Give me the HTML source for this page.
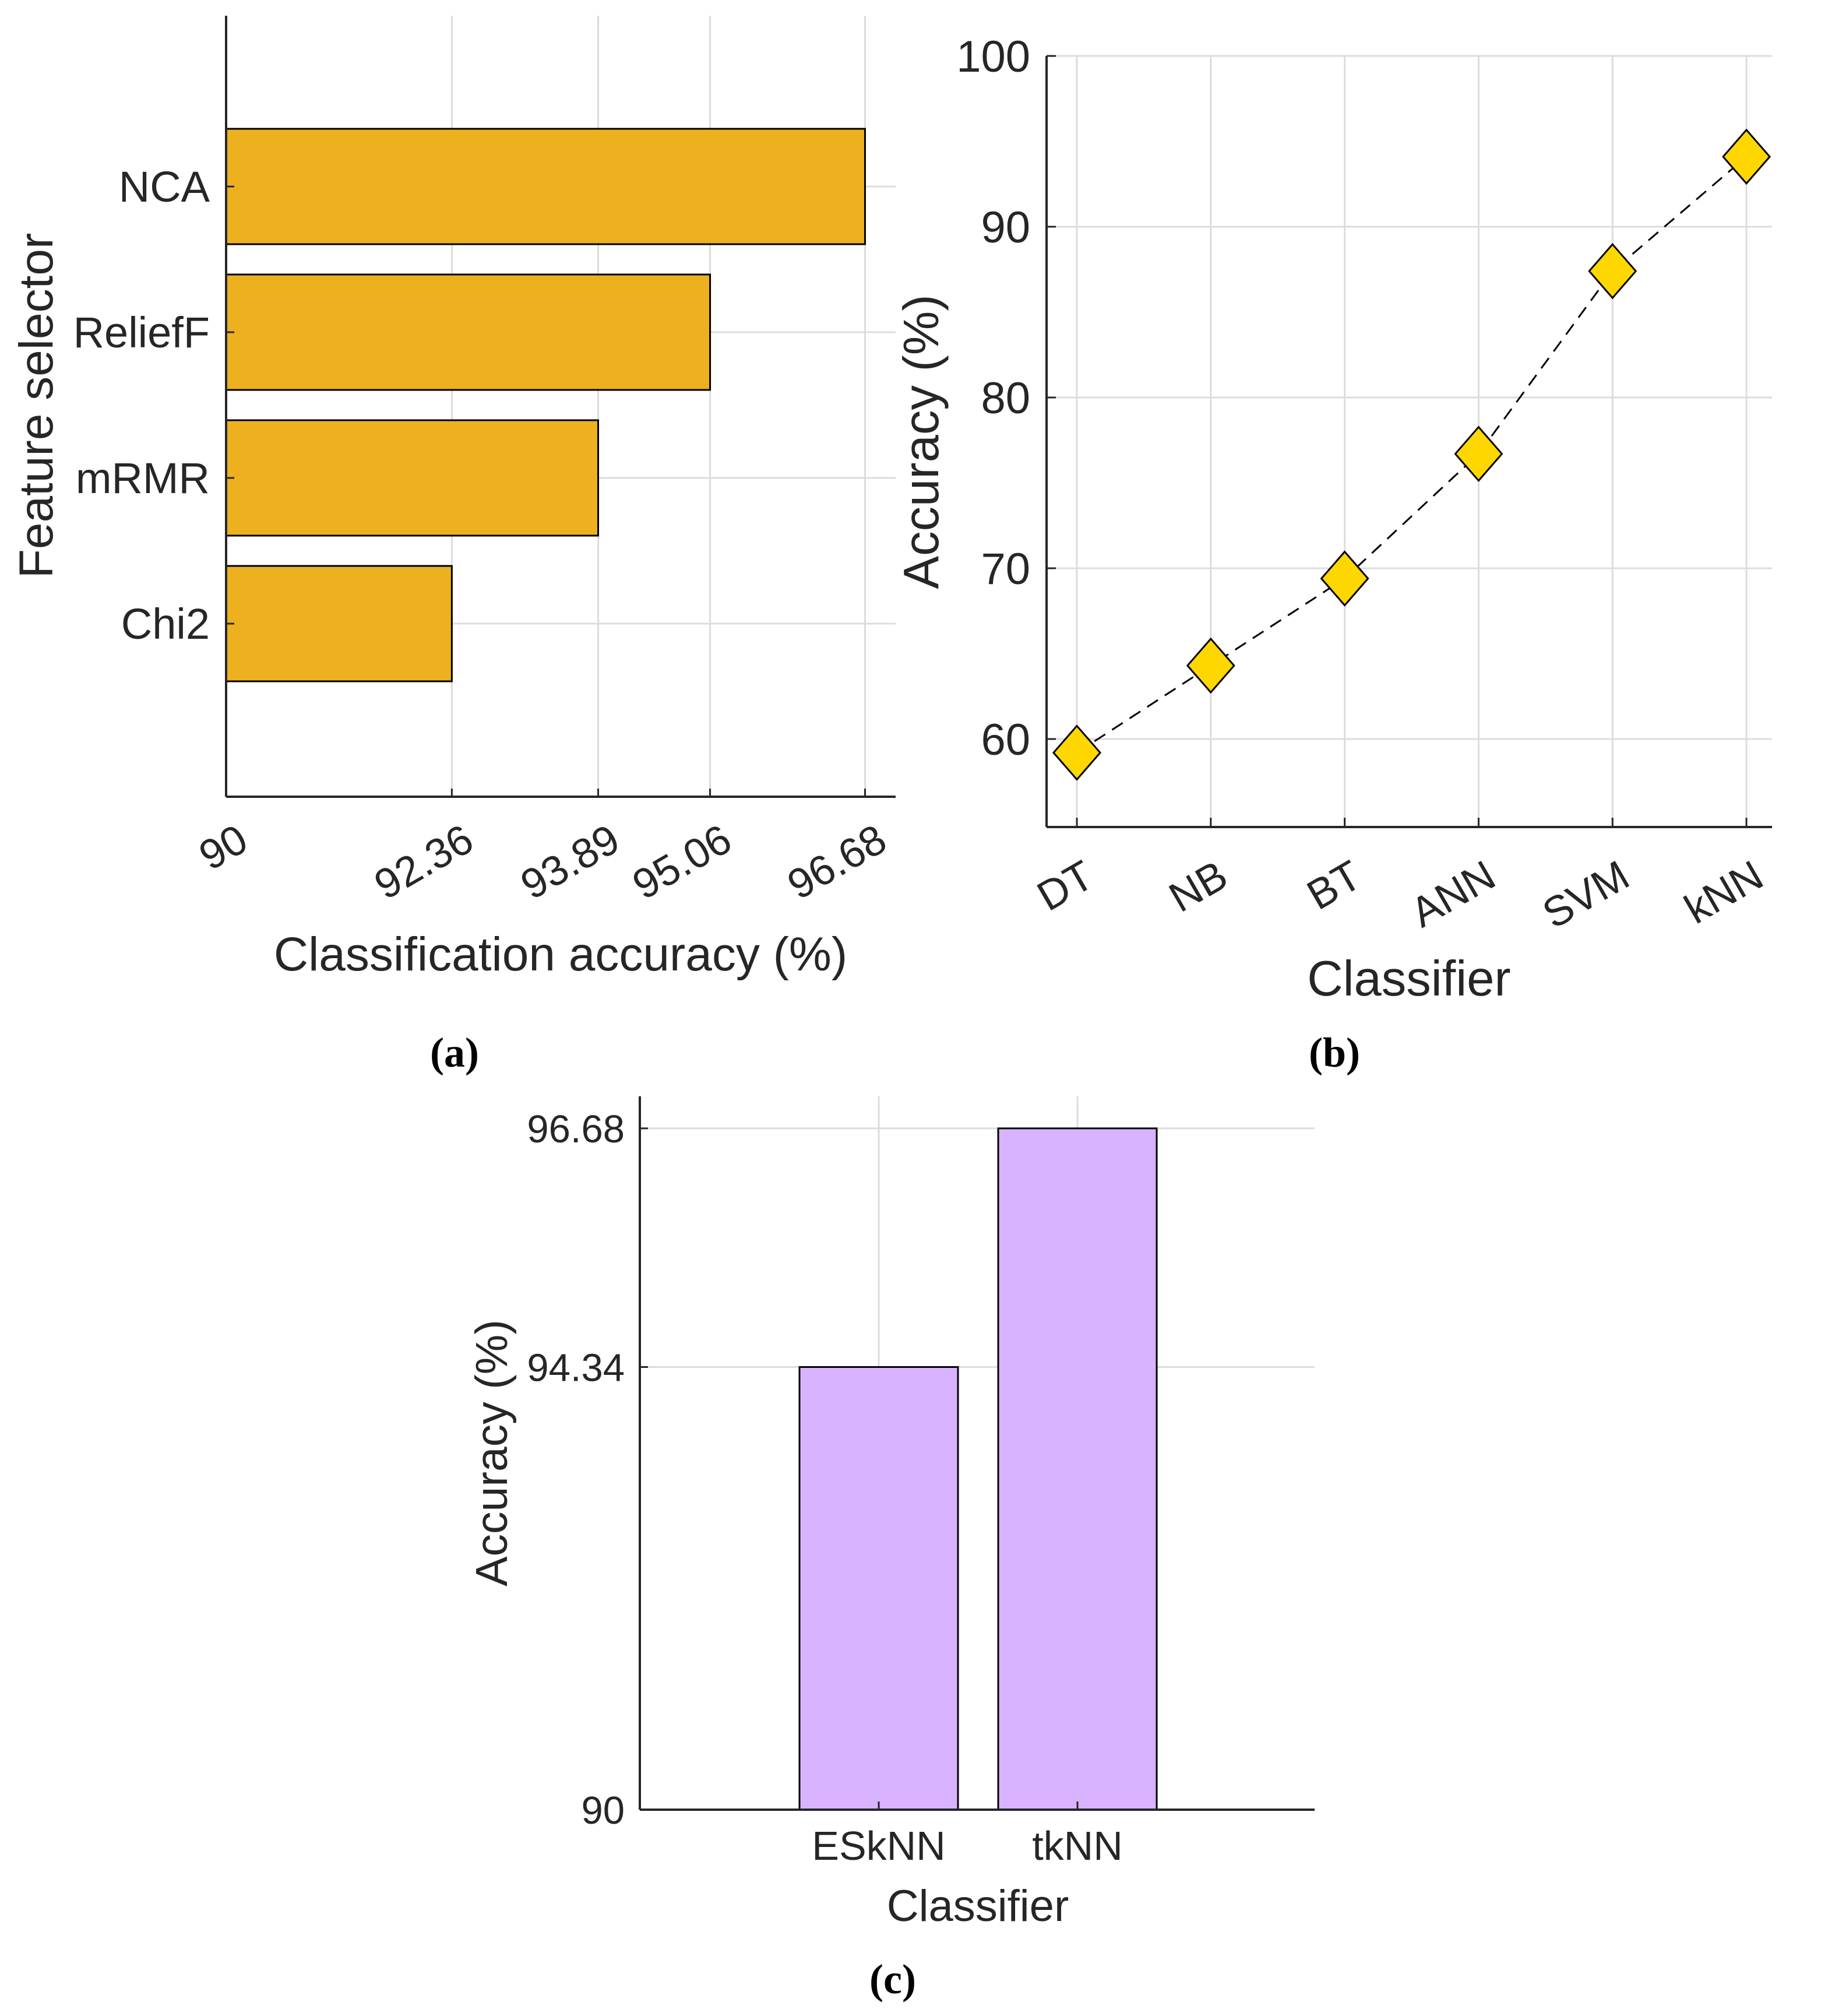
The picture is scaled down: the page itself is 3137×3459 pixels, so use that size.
<!DOCTYPE html>
<html><head><meta charset="utf-8"><style>
html,body{margin:0;padding:0;background:#fff}
svg{display:block}
text{font-family:"Liberation Sans",Arial,sans-serif;fill:#262626}
text.cap{font-family:"Liberation Serif",serif;font-weight:bold;fill:#000}
</style></head><body>
<svg id="s" width="3137" height="3459" viewBox="0 0 3137 3459" xmlns="http://www.w3.org/2000/svg"></svg>
<script>
// Panel (a) data
const aCats = ["Chi2","mRMR","ReliefF","NCA"];
const aVals = [92.36, 93.89, 95.06, 96.68];
const aTicks = [90, 92.36, 93.89, 95.06, 96.68];
const aTickLabels = ["90","92.36","93.89","95.06","96.68"];
// Panel (b) data
const bCats = ["DT","NB","BT","ANN","SVM","kNN"];
const bVals = [59.2, 64.3, 69.4, 76.7, 87.4, 94.1];
const bTicks = [60, 70, 80, 90, 100];
// Panel (c) data
const cCats = ["ESkNN","tkNN"];
const cVals = [94.34, 96.68];
const cTicks = [90, 94.34, 96.68];
const cTickLabels = ["90","94.34","96.68"];

const NS="http://www.w3.org/2000/svg";
const S=document.getElementById('s');
function mk(tag, attrs, parent, txt){
  const e=document.createElementNS(NS,tag);
  for(const k in attrs) e.setAttribute(k, attrs[k]);
  if(txt!==undefined) e.textContent=txt;
  (parent||S).appendChild(e); return e;
}
const GRID="#dcdcdc", AX="#262626";

// ===== Panel (a) =====
(function(){
  const g=mk('g',{});
  
  
  const L=388,R=1537,T=27,B=1367, xmin=90,xmax=97;
  const X=v=>L+(v-xmin)/(xmax-xmin)*(R-L);
  const Y=k=>1070-(k)*250;
  aTicks.forEach(t=>{ const l=mk('line',{x1:X(t),x2:X(t),y1:T,y2:B,stroke:GRID,'stroke-width':3},g);
     });
  aCats.forEach((c,i)=>{ const l=mk('line',{x1:L,x2:R,y1:Y(i),y2:Y(i),stroke:GRID,'stroke-width':3},g);
     });
  aVals.forEach((v,i)=>{
    const r=mk('rect',{x:L,y:Y(i)-99,width:X(v)-L,height:198,fill:'#EDB120',stroke:'#000','stroke-width':3},g);
    
    
    const t=mk('text',{x:L-28,y:Y(i)+26,'text-anchor':'end','font-size':74},g,aCats[i]);
     
    mk('line',{x1:L,x2:L+14,y1:Y(i),y2:Y(i),stroke:AX,'stroke-width':3},g);
  });
  mk('line',{x1:L,x2:L,y1:T,y2:B,stroke:AX,'stroke-width':4},g);
  mk('line',{x1:L,x2:R,y1:B,y2:B,stroke:AX,'stroke-width':4},g);
  aTicks.forEach((t,i)=>{
    mk('line',{x1:X(t),x2:X(t),y1:B,y2:B-14,stroke:AX,'stroke-width':3},g);
    const tx=mk('text',{transform:`translate(${X(t)+42},${B+88}) rotate(-30)`,'text-anchor':'end','font-size':72},g,aTickLabels[i]);
     
  });
  const xl=mk('text',{x:962,y:1665,'text-anchor':'middle','font-size':82},g,'Classification accuracy (%)');
   
  const yl=mk('text',{transform:'translate(90,696) rotate(-90)','text-anchor':'middle','font-size':82},g,'Feature selector');
   
})();

// ===== Panel (b) =====
(function(){
  const g=mk('g',{});
  
  
  const L=1796,R=3041,B=1419,T=96;
  const Y=v=>389-(v-90)*29.3;
  const X=i=>1848+i*229.8;
  bTicks.forEach(t=>{ const l=mk('line',{x1:L,x2:R,y1:Y(t),y2:Y(t),stroke:GRID,'stroke-width':3},g);
     });
  bCats.forEach((c,i)=>{ const l=mk('line',{x1:X(i),x2:X(i),y1:T,y2:B,stroke:GRID,'stroke-width':3},g);
     });
  mk('line',{x1:L,x2:L,y1:T,y2:B,stroke:AX,'stroke-width':4},g);
  mk('line',{x1:L,x2:R,y1:B,y2:B,stroke:AX,'stroke-width':4},g);
  bTicks.forEach(t=>{
    mk('line',{x1:L,x2:L+16,y1:Y(t),y2:Y(t),stroke:AX,'stroke-width':3},g);
    const tx=mk('text',{x:L-28,y:Y(t)+27,'text-anchor':'end','font-size':76},g,String(t));
     
  });
  bCats.forEach((c,i)=>{
    mk('line',{x1:X(i),x2:X(i),y1:B,y2:B-16,stroke:AX,'stroke-width':3},g);
    const tx=mk('text',{transform:`translate(${X(i)+34},${B+98}) rotate(-30)`,'text-anchor':'end','font-size':72},g,c);
     
  });
  const pts=bVals.map((v,i)=>X(i)+','+Y(v)).join(' ');
  const pl=mk('polyline',{points:pts,fill:'none',stroke:'#000','stroke-width':3,'stroke-dasharray':'22 14'},g);
   
  bVals.forEach((v,i)=>{
    const x=X(i),y=Y(v);
    const p=mk('polygon',{points:`${x},${y-46} ${x+40},${y} ${x},${y+46} ${x-40},${y}`,fill:'#FFD700',stroke:'#000','stroke-width':3},g);
    
    
  });
  const xl=mk('text',{x:2418,y:1708,'text-anchor':'middle','font-size':85},g,'Classifier');
   
  const yl=mk('text',{transform:'translate(1610,758) rotate(-90)','text-anchor':'middle','font-size':85},g,'Accuracy (%)');
   
})();

// ===== Panel (c) =====
(function(){
  const g=mk('g',{});
  
  
  const L=1098,R=2256,B=3105,T=1881;
  const Y=v=>B-(v-90)*175;
  const X=i=>1508+i*341;
  cTicks.forEach(t=>{ const l=mk('line',{x1:L,x2:R,y1:Y(t),y2:Y(t),stroke:GRID,'stroke-width':3},g);
     });
  cCats.forEach((c,i)=>{ const l=mk('line',{x1:X(i),x2:X(i),y1:T,y2:B,stroke:GRID,'stroke-width':3},g);
     });
  cVals.forEach((v,i)=>{
    const r=mk('rect',{x:X(i)-136,y:Y(v),width:272,height:B-Y(v),fill:'#D9B3FF',stroke:'#000','stroke-width':3},g);
    
    
    mk('line',{x1:X(i),x2:X(i),y1:B,y2:B-14,stroke:AX,'stroke-width':3},g);
    const t=mk('text',{x:X(i),y:B+86,'text-anchor':'middle','font-size':70},g,cCats[i]);
     
  });
  mk('line',{x1:L,x2:L,y1:T,y2:B,stroke:AX,'stroke-width':4},g);
  mk('line',{x1:L,x2:R,y1:B,y2:B,stroke:AX,'stroke-width':4},g);
  cTicks.forEach((t,i)=>{
    mk('line',{x1:L,x2:L+14,y1:Y(t),y2:Y(t),stroke:AX,'stroke-width':3},g);
    const tx=mk('text',{x:L-26,y:Y(t)+24,'text-anchor':'end','font-size':67},g,cTickLabels[i]);
     
  });
  const xl=mk('text',{x:1678,y:3296,'text-anchor':'middle','font-size':76},g,'Classifier');
   
  const yl=mk('text',{transform:'translate(870,2493) rotate(-90)','text-anchor':'middle','font-size':77},g,'Accuracy (%)');
   
})();

// Panel captions
[["(a)",780,1830],["(b)",2290,1830],["(c)",1532,3420]].forEach(c=>{
  const t=mk('text',{x:c[1],y:c[2],'text-anchor':'middle','font-size':72,'class':'cap'},S,c[0]);
   
});
</script>
</body></html>
